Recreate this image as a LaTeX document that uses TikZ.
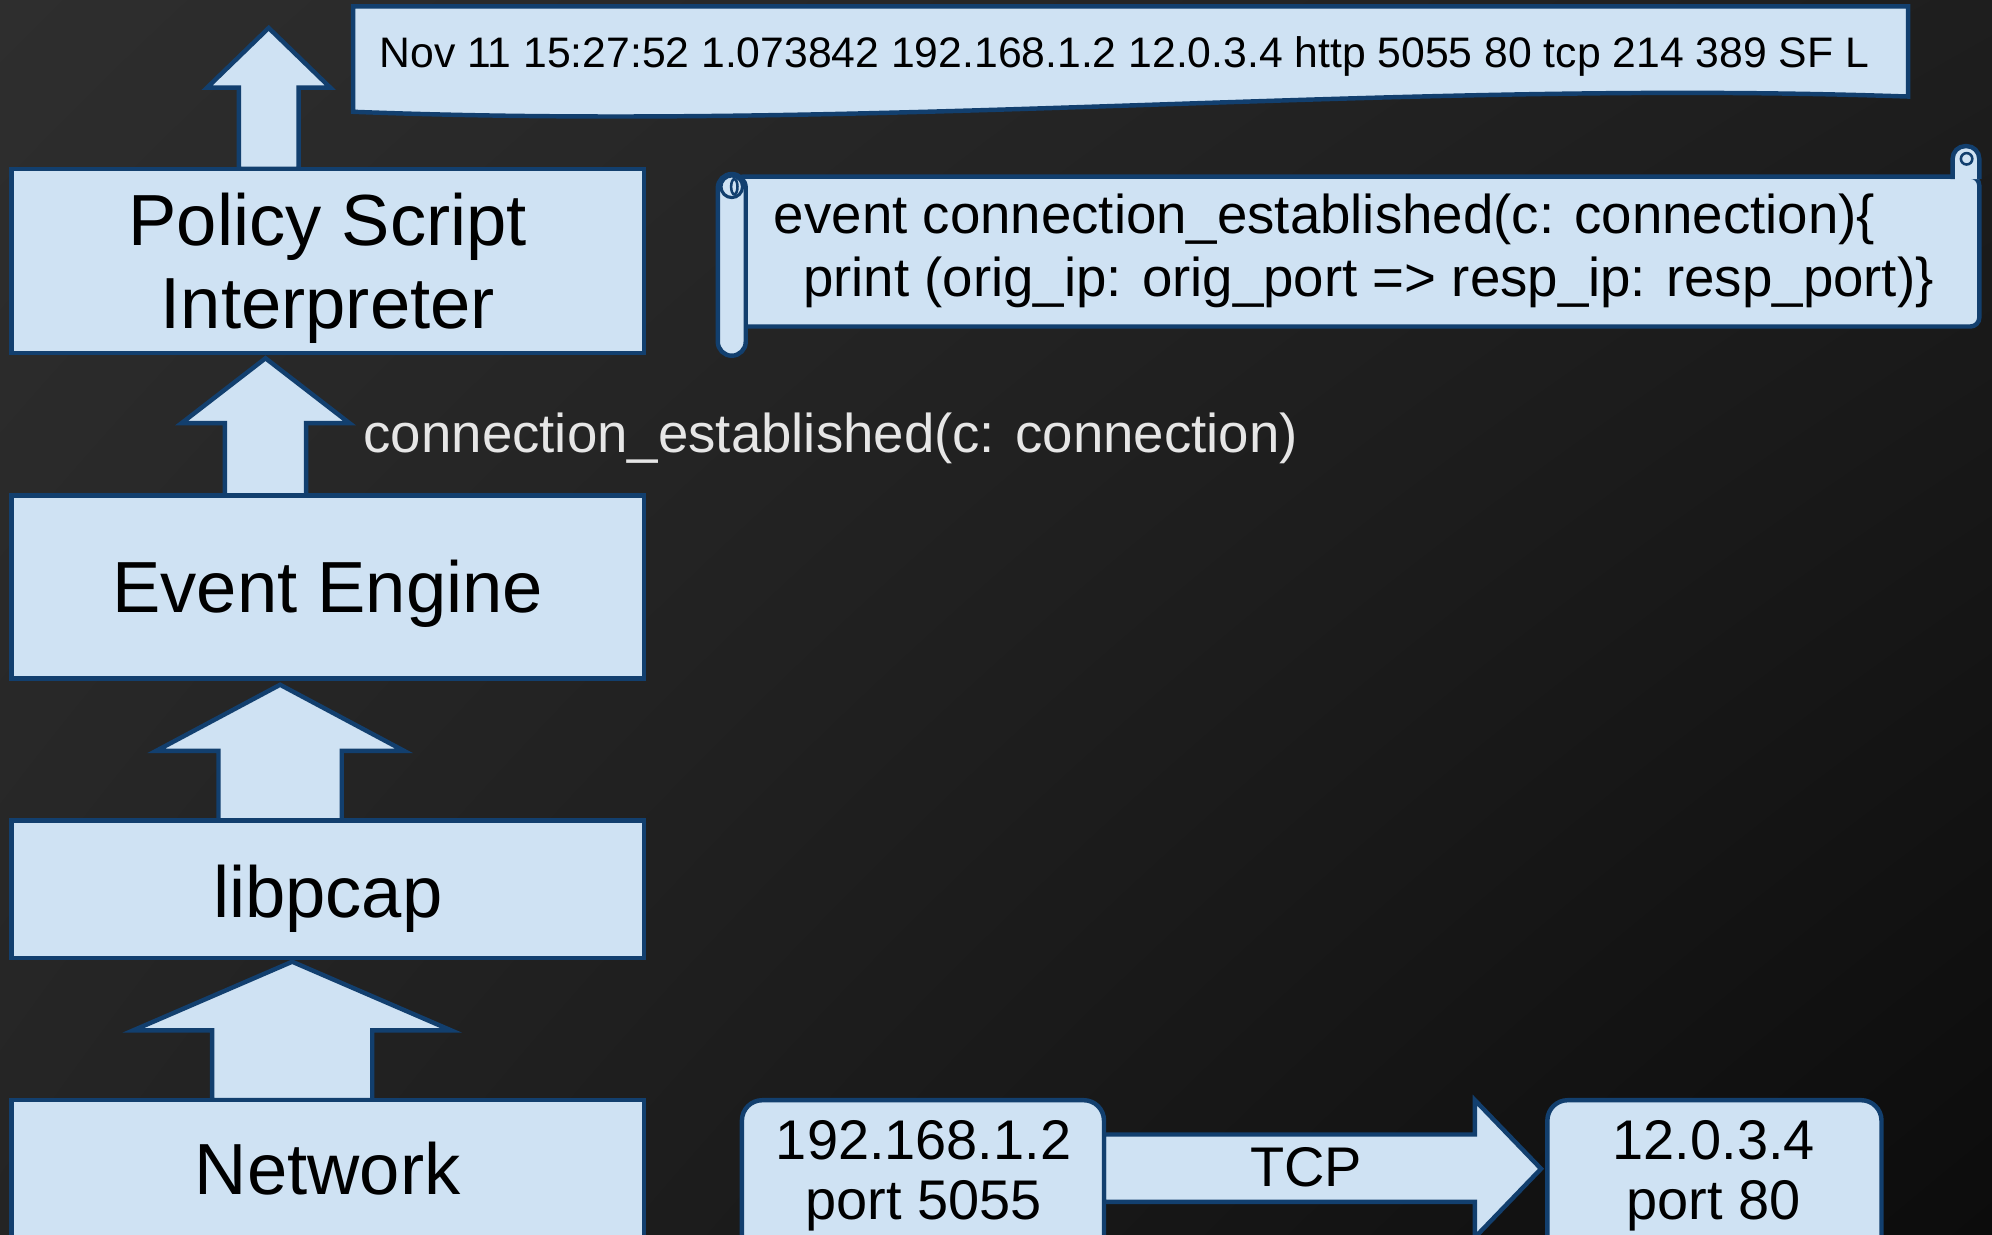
\documentclass[tikz,border=0pt]{standalone}
\usepackage{fontspec}
\setmainfont{Liberation Sans}
\usetikzlibrary{shadings}
\definecolor{paper}{HTML}{CFE2F3}
\definecolor{edge}{HTML}{123F6E}
\definecolor{chalk}{HTML}{E6E6E6}
\definecolor{boardUL}{HTML}{2E2E2E}
\definecolor{boardUR}{HTML}{1E1E1E}
\definecolor{boardLL}{HTML}{242424}
\definecolor{boardLR}{HTML}{0C0C0C}
% upward block arrow: centre x, tip y, head base y, head half width, shaft half width, shaft foot y
\newcommand\blockup[6]{%
  \draw[blk] (#1,#2) -- (#1+#4,#3) -- (#1+#5,#3) -- (#1+#5,#6)
    -- (#1-#5,#6) -- (#1-#5,#3) -- (#1-#4,#3) -- cycle;}
\begin{document}
\begin{tikzpicture}[x=1pt,y=-1pt,
  blk/.style={draw=edge, fill=paper, line width=3.5pt, line join=miter},
  layer/.style={blk, rectangle, minimum width=498pt, inner sep=0pt, outer sep=0pt},
  hostbox/.style={blk, rectangle, rounded corners=16pt, inner sep=0pt, outer sep=0pt,
    minimum height=140pt, anchor=north west},
  big/.style={font=\fontsize{57}{65}\selectfont, inner sep=0pt, anchor=base},
  mid/.style={font=\fontsize{44}{50}\selectfont, inner sep=0pt, anchor=base},
  code/.style={font=\fontsize{43}{49}\selectfont, inner sep=0pt, anchor=base west},
]
\useasboundingbox (0,0) rectangle (1568,972);
\clip (0,0) rectangle (1568,972);

% chalkboard background
\shade[upper left=boardUL, upper right=boardUR,
       lower left=boardLL, lower right=boardLR]
  (0,0) rectangle (1568,972);

% arrows of the processing stack
\blockup{211.5}{22}{69}{48.5}{23.5}{133}
\blockup{209}{282}{333}{66}{32}{390}
\blockup{220.5}{539}{591}{97.5}{48.5}{646}
\blockup{230}{757}{811}{125}{63}{866}

% processing stack
\node[layer, minimum height=145pt] (psi) at (258,205.5) {};
\node[layer, minimum height=144pt] (ee)  at (258,462) {};
\node[layer, minimum height=108pt] (lp)  at (258,700) {};
\node[layer, minimum height=110pt] (net) at (258,921) {};

\node[big] (psi1) at (258,193.5) {Policy Script};
\node[big] (psi2) at (258,258.5) {Interpreter};
\node[big] (eet)  at (258,482.5) {Event Engine};
\node[big] (lpt)  at (258,722) {libpcap};
\node[big] (nett) at (258,940.5) {Network};

% event raised by the engine
\node[code, text=chalk] (evname) at (286,356) {connection\_established(c: connection)};

% log output document
\draw[blk] (278,5) -- (1502,5) -- (1502,76)
  .. controls (1100,62) and (700,104) .. (278,88) -- cycle;
\node[font=\fontsize{33.6}{40}\selectfont, inner sep=0pt, anchor=base] (logline) at (885,53.5)
  {Nov 11 15:27:52 1.073842 192.168.1.2 12.0.3.4 http 5055 80 tcp 214 389 SF L};

% policy script scroll
\draw[blk, rounded corners=7pt] (578,139) -- (1558,139) -- (1558,257) -- (578,257) -- cycle;
\draw[blk, rounded corners=10pt] (1537,141) -- (1537,115) -- (1558,115) -- (1558,141);
\draw[edge, line width=2pt, fill=paper] (1548,125) circle (4.5);
\draw[blk, rounded corners=11pt] (565,137) rectangle (587,280);
\draw[edge, line width=2.5pt, fill=paper] (576,147) circle (8.5);
\draw[edge, line width=2pt] (578,147) ellipse (2.5 and 6);
\node[code] (code1) at (609,184) {event connection\_established(c: connection)\{};
\node[code] (code2) at (632,233) {print (orig\_ip: orig\_port => resp\_ip: resp\_port)\}};

% TCP connection between the two hosts
\draw[blk] (869,893) -- (1161,893) -- (1161,866) -- (1213,920)
  -- (1161,974) -- (1161,946) -- (869,946) -- cycle;
\node[hostbox, minimum width=285pt] (src) at (584,866) {};
\node[hostbox, minimum width=263pt] (dst) at (1218,866) {};
\node[mid] (srcip)   at (727,913)  {192.168.1.2};
\node[mid] (srcport) at (727,960)  {port 5055};
\node[mid] (dstip)   at (1349,913) {12.0.3.4};
\node[mid] (dstport) at (1349,960) {port 80};
\node[mid] (tcp)     at (1028,934) {TCP};
\end{tikzpicture}
\end{document}
